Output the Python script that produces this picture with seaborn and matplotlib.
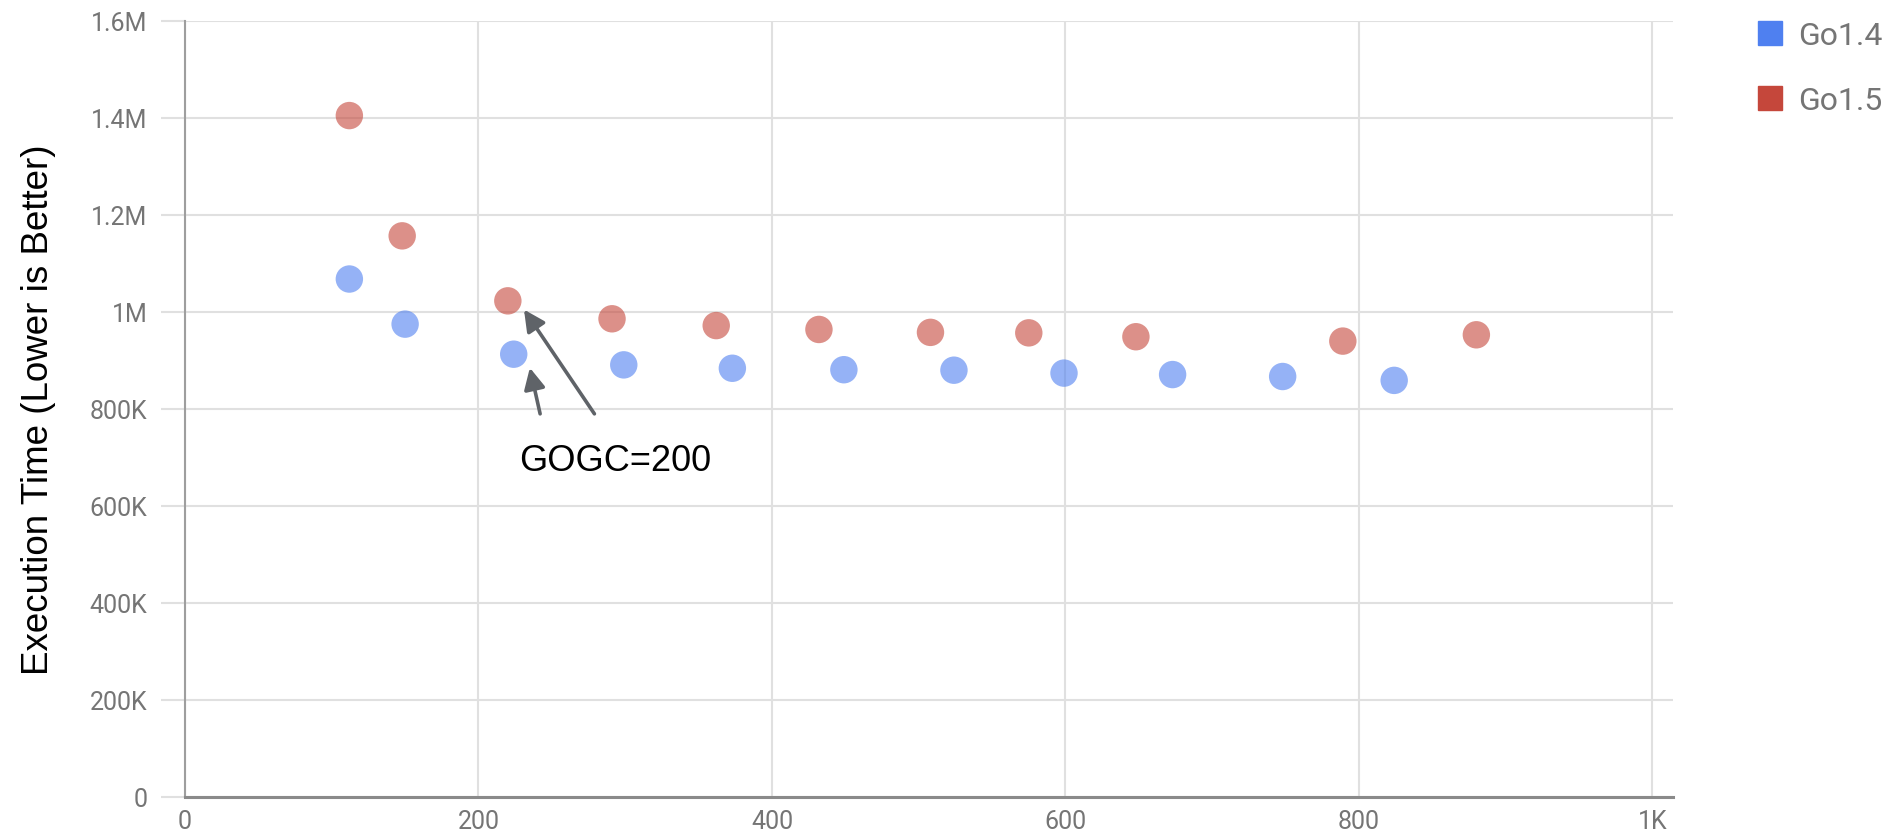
import numpy as np
import pandas as pd
import matplotlib.pyplot as plt
import seaborn as sns
from matplotlib.lines import Line2D

# Data
go14_x = [112, 150, 224, 299, 373, 449, 524, 599, 673, 748, 824]
go14_y = [1068000, 975000, 913000, 891000, 884000, 881000, 880000, 874000, 871000, 867000, 859000]
go15_x = [112, 148, 220, 291, 362, 432, 508, 575, 648, 789, 880]
go15_y = [1405000, 1157000, 1023000, 986000, 972000, 964000, 958000, 957000, 949000, 940000, 953000]
series = ["Go1.4", "Go1.5"]

x_ticks = [0, 200, 400, 600, 800, 1000]
x_labels = ["0", "200", "400", "600", "800", "1K"]
y_ticks = [0, 200000, 400000, 600000, 800000, 1000000, 1200000, 1400000, 1600000]
y_labels = ["0", "200K", "400K", "600K", "800K", "1M", "1.2M", "1.4M", "1.6M"]

# annotation: text position and arrows (tail -> head)
note_text = "GOGC=200"
note_pos = (293, 693000)
arrows = [((242, 790000), (235, 885000)),
          ((279, 790000), (231, 1005000))]

df = pd.DataFrame({
    "x": go14_x + go15_x,
    "y": go14_y + go15_y,
    "version": [series[0]] * len(go14_x) + [series[1]] * len(go15_x),
})

colors = {"Go1.4": "#4f80f0", "Go1.5": "#c5473b"}
grid_c = "#e0e0e0"
label_c = "#757575"

sns.set_style("white")
plt.rcParams["font.family"] = ["Roboto", "DejaVu Sans"]

fig = plt.figure(figsize=(18.97, 8.37), dpi=100)
ax = fig.add_axes([185 / 1897, 1 - 798 / 837, (1673 - 185) / 1897, (798 - 22) / 837])

sns.scatterplot(data=df, x="x", y="y", hue="version", palette=colors,
                s=390, alpha=0.6, linewidth=0, legend=False, ax=ax, zorder=3)

ax.set_xlim(0, 1014)
ax.set_ylim(0, 1600000)
ax.set_xticks(x_ticks)
ax.set_xticklabels(x_labels)
ax.set_yticks(y_ticks)
ax.set_yticklabels(y_labels)
ax.grid(True, color=grid_c, linewidth=1.5, zorder=0)
ax.set_axisbelow(True)

for s in ["top", "right"]:
    ax.spines[s].set_visible(False)
ax.spines["left"].set_color("#9e9e9e")
ax.spines["left"].set_linewidth(1.5)
ax.spines["bottom"].set_color("#8a8a8a")
ax.spines["bottom"].set_linewidth(2.2)
ax.spines["left"].set_zorder(2)
ax.spines["bottom"].set_zorder(2)

ax.tick_params(axis="y", length=17, width=1.5, color=grid_c, pad=10,
               labelsize=18, labelcolor=label_c, left=True)
ax.tick_params(axis="x", length=0, pad=9, labelsize=18, labelcolor=label_c)

ax.set_xlabel("")
ax.set_ylabel("")
fig.text(39 / 1897, 1 - 410 / 837, "Execution Time (Lower is Better)",
         rotation=90, ha="center", va="center", fontsize=26.5,
         family=["Liberation Sans", "DejaVu Sans"], color="black")

for tail, head in arrows:
    ax.annotate("", xy=head, xytext=tail,
                arrowprops=dict(arrowstyle="-|>", color="#5f6368", lw=2.6,
                                mutation_scale=32, shrinkA=0, shrinkB=0),
                zorder=4)
ax.text(note_pos[0], note_pos[1], note_text, ha="center", va="center",
        fontsize=26, family=["Liberation Sans", "DejaVu Sans"], color="black")

handles = [Line2D([0], [0], marker="s", linestyle="", markersize=17,
                  markerfacecolor=colors[k], markeredgecolor=colors[k]) for k in series]
leg = fig.legend(handles, series, loc="upper left",
                 bbox_to_anchor=(1757 / 1897, 1 - 22 / 837), frameon=False,
                 fontsize=23, labelcolor=label_c, handlelength=0.8,
                 handletextpad=0.5, labelspacing=1.13, borderpad=0,
                 borderaxespad=0)

fig.savefig("out.png", dpi=100, facecolor="white")
